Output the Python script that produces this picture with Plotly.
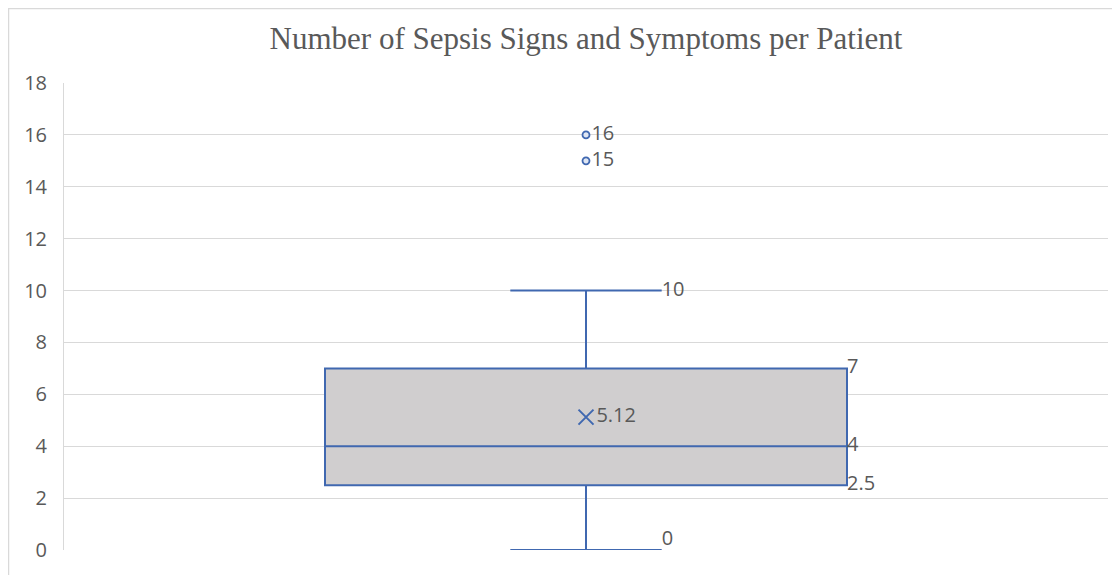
import plotly.graph_objects as go

# ---- data ----
category = ["Patients"]
lower_fence = [0]
q1 = [2.5]
median = [4]
q3 = [7]
upper_fence = [10]
mean = [5.12]
outliers = [16, 15]
y_ticks = [0, 2, 4, 6, 8, 10, 12, 14, 16, 18]

# ---- style ----
BLUE = "#4068b0"
FILL = "#d0cecf"
TXT = "#595959"
GRID = "#d9d9d9"
FONT = "Open Sans, Liberation Sans"
FS = 20
box_w = 1.0          # box width in x data units
cap_frac = 0.29      # whisker cap width relative to box

W, H = 1112, 567
ML, MR, MT, MB = 56, 12, 75, 25
PW, PH = W - ML - MR, H - MT - MB

fig = go.Figure()
fig.add_trace(go.Box(
    x=[0], q1=q1, median=median, q3=q3,
    lowerfence=lower_fence, upperfence=upper_fence,
    width=box_w, whiskerwidth=cap_frac,
    fillcolor=FILL, line=dict(color=BLUE, width=2),
    boxpoints=False, hoverinfo="skip", showlegend=False,
))
# outliers
fig.add_trace(go.Scatter(
    x=[0] * len(outliers), y=outliers, mode="markers+text",
    marker=dict(symbol="circle", size=7, color="#dfe6f3", line=dict(color=BLUE, width=1.8)),
    text=[str(v) for v in outliers], textposition="middle right",
    textfont=dict(family=FONT, size=FS, color=TXT),
    showlegend=False, hoverinfo="skip",
))
# mean
fig.add_trace(go.Scatter(
    x=[0], y=mean, mode="markers+text",
    marker=dict(symbol="x-thin", size=15, line=dict(color=BLUE, width=2)),
    text=[f"{m:.2f}" for m in mean], textposition="middle right",
    textfont=dict(family=FONT, size=FS, color=TXT),
    showlegend=False, hoverinfo="skip",
))
# quartile labels at box right edge
fig.add_trace(go.Scatter(
    x=[box_w / 2] * 3, y=[q3[0], median[0], q1[0]], mode="text",
    text=[str(q3[0]), str(median[0]), str(q1[0])],
    textposition="middle right",
    textfont=dict(family=FONT, size=FS, color=TXT),
    showlegend=False, hoverinfo="skip",
))
# whisker labels at cap end
cap_end = box_w * cap_frac / 2
fig.add_trace(go.Scatter(
    x=[cap_end, cap_end], y=[upper_fence[0], lower_fence[0]], mode="text",
    text=[str(upper_fence[0]), str(lower_fence[0])],
    textposition=["middle right", "top right"],
    textfont=dict(family=FONT, size=FS, color=TXT),
    showlegend=False, hoverinfo="skip",
))

fig.update_layout(
    width=W, height=H,
    margin=dict(l=ML, r=MR, t=MT, b=MB),
    paper_bgcolor="white", plot_bgcolor="white",
    title=dict(text="Number of Sepsis Signs and Symptoms per Patient",
               x=0.5, xref="paper", y=1 - 30 / H, yanchor="middle",
               font=dict(family="Liberation Serif, Times New Roman", size=31, color=TXT)),
    xaxis=dict(range=[-1, 1], showgrid=False, zeroline=False, showticklabels=False,
               showline=False, fixedrange=True),
    yaxis=dict(range=[0, 18], tickvals=y_ticks, showgrid=True, gridcolor=GRID, gridwidth=1,
               zeroline=False, showline=True, linecolor=GRID, linewidth=1,
               ticks="", ticklen=0, ticklabelstandoff=12,
               tickfont=dict(family=FONT, size=FS, color=TXT)),
    shapes=[dict(type="rect", xref="paper", yref="paper",
                 x0=(-ML + 0.5) / PW, x1=1.2, y0=-0.2, y1=1 + (MT - 0.5) / PH,
                 line=dict(color="#d9d9d9", width=1.5), fillcolor="rgba(0,0,0,0)",
                 layer="below")],
)

fig.write_html("out.html")
